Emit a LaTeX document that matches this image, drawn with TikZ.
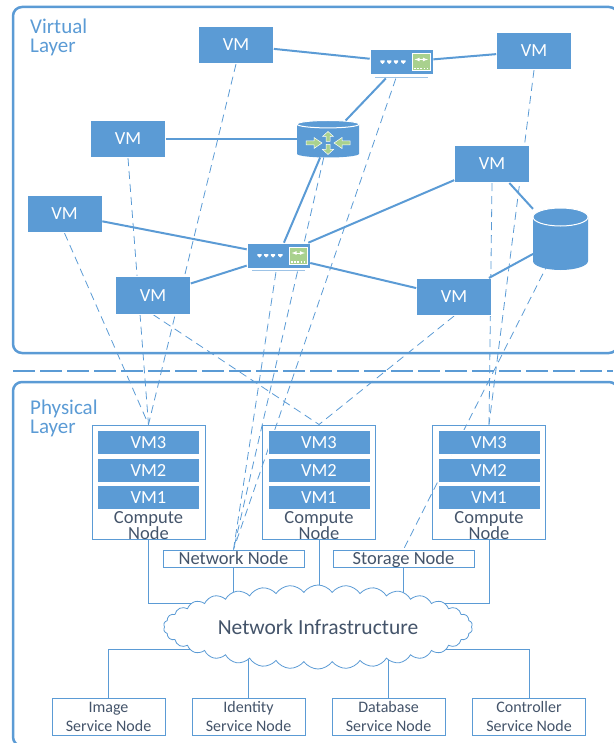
\documentclass[tikz,border=0pt]{standalone}
\usepackage{fontspec}
\setmainfont{Carlito}
\usetikzlibrary{shapes.symbols,backgrounds}

\definecolor{netblue}{HTML}{5B9BD5}
\definecolor{lightblue}{HTML}{9DC3E6}
\definecolor{icongreen}{HTML}{A9D18E}
\definecolor{slatetext}{HTML}{44546A}

\tikzset{
  vmbox/.style={rectangle, fill=netblue, draw=white, line width=0.6pt, inner sep=0pt, minimum width=75pt, minimum height=37.5pt, text=white, font=\fontsize{18.5}{18}\selectfont},
  barbox/.style={rectangle, fill=netblue, draw=white, line width=0.6pt, inner sep=0pt, minimum width=102pt, minimum height=24pt, text=white, font=\fontsize{18.5}{18}\selectfont},
  computebox/.style={rectangle, draw=netblue, line width=1pt, inner sep=0pt, minimum width=113pt, minimum height=114pt},
  hostbox/.style={rectangle, draw=netblue, fill=white, line width=1pt, inner sep=0pt, minimum width=141pt, minimum height=17pt, text height=14pt, text depth=2pt, text=slatetext, font=\fontsize{18.5}{18}\selectfont},
  servicebox/.style={rectangle, draw=netblue, fill=white, line width=1pt, inner sep=0pt, minimum width=113pt, minimum height=37pt, text=slatetext, align=center, font=\fontsize{16}{19}\selectfont},
  switchbox/.style={rectangle, fill=netblue, draw=white, line width=0.6pt, inner sep=0pt, minimum width=63pt, minimum height=25pt},
  drum/.style={rectangle, inner sep=0pt, outer sep=0pt},
  captext/.style={inner sep=0pt, text=slatetext, align=center, font=\fontsize{18.5}{16}\selectfont},
  layertext/.style={inner sep=0pt, anchor=north west, text=netblue, align=left, font=\fontsize{21}{19}\selectfont},
  link/.style={draw=netblue, line width=2pt},
  wire/.style={draw=netblue, line width=1pt},
  vlink/.style={draw=netblue, line width=0.8pt, dash pattern=on 8pt off 5pt},
  panel/.style={draw=netblue, line width=2.5pt, rounded corners=9pt}
}

\newcommand{\switchicon}[1]{
  \begin{scope}[shift={(#1.center)}]
    \foreach \dx in {-19,-12.3,-5.5,1.8}
      \fill[white] (\dx-2.2,-1.5) -- (\dx+2.2,-1.5) -- (\dx+2.2,0) -- (\dx,2) -- (\dx-2.2,0) -- cycle;
    \filldraw[fill=icongreen, draw=white, line width=0.8pt] (11,-8.5) rectangle (28.5,8.5);
    \draw[white, line width=0.8pt, <->, >=latex] (13,-2.5) -- (26.5,-2.5);
    \draw[white, line width=1.5pt, dash pattern=on 1.6pt off 1.6pt] (12.5,6.3) -- (27.5,6.3);
    \draw[lightblue, line width=1.2pt] (-26.5,15.2) -- (26.5,15.2);
  \end{scope}
}

% name, half width, end depth, half height
\newcommand{\drumicon}[4]{
  \begin{scope}[shift={(#1.center)}]
    \fill[netblue] (-#2,-#4+#3) -- (-#2,#4-#3) arc [start angle=180, end angle=0, x radius=#2, y radius=#3] -- (#2,-#4+#3) -- cycle;
    \filldraw[fill=netblue, draw=white, line width=1pt] (0,-#4+#3) ellipse [x radius=#2, y radius=#3];
  \end{scope}
}

\begin{document}
\begin{tikzpicture}[x=1pt,y=-1pt]
\useasboundingbox (0,0) rectangle (613,743);

\node [layertext] (virtualtext) at (30,19) {Virtual\\Layer};
\node [layertext] (physicaltext) at (30,400) {Physical\\Layer};

% virtual layer
\node [vmbox] (vma) at (236,45) {VM};
\node [vmbox] (vmb) at (128,139) {VM};
\node [vmbox] (vmc) at (64.5,214) {VM};
\node [vmbox] (vmd) at (153,295.5) {VM};
\node [vmbox] (vme) at (454,297) {VM};
\node [vmbox] (vmf) at (492,164) {VM};
\node [vmbox] (vmg) at (534,51) {VM};

\node [switchbox] (swa) at (401.5,62) {};
\node [switchbox] (swb) at (278.5,255.5) {};
\switchicon{swa}
\switchicon{swb}

\node [drum, minimum width=62pt, minimum height=37pt] (router) at (328,139) {};
\drumicon{router}{31}{3.7}{18.5}
\begin{scope}[shift={(328,143)}]
  \foreach \turn/\tail/\tip in {90/1.5/11.5,-90/1.5/11.5,0/22/6,180/22/6}
    \filldraw[fill=icongreen, draw=white, line width=0.5pt, rotate=\turn] (\tail,-2) -- ({0.5*\tail+0.5*\tip},-2) -- ({0.5*\tail+0.5*\tip},-5.5) -- (\tip,0) -- ({0.5*\tail+0.5*\tip},5.5) -- ({0.5*\tail+0.5*\tip},2) -- (\tail,2) -- cycle;
\end{scope}

\node [drum, minimum width=55pt, minimum height=62pt] (disk) at (560.5,239) {};
\drumicon{disk}{27.5}{9}{31}

\draw [link] (vma) -- (swa);
\draw [link] (swa) -- (vmg);
\draw [link] (vmb) -- (router);
\draw [link, shorten <=5pt] (swa) -- (router);
\draw [link] (router) -- (swb);
\draw [link] (vmc) -- (swb);
\draw [link] (vmd) -- (swb);
\draw [link] (swb) -- (vmf);
\draw [link] (swb) -- (vme);
\draw [link] (vmf) -- (disk);
\draw [link] (vme) -- (disk);

% physical layer
\node [computebox] (cna) at (148.5,482) {};
\node [computebox] (cnb) at (319,482) {};
\node [computebox] (cnc) at (489,482) {};

\foreach \cn in {cna,cnb,cnc} {
  \node [barbox] (\cn three) at (\cn.center |- 0,442.5) {VM3};
  \node [barbox] (\cn two) at (\cn.center |- 0,470.5) {VM2};
  \node [barbox] (\cn one) at (\cn.center |- 0,497.5) {VM1};
  \node [captext] (\cn text) at (\cn.center |- 0,525.5) {Compute\\Node};
}

\node [hostbox] (netnode) at (233.5,558.5) {Network Node};
\node [hostbox] (stornode) at (403.5,558.5) {Storage Node};

\node [cloud, cloud puffs=34, cloud puff arc=110, aspect=4.4, cloud ignores aspect, draw=netblue, fill=white, line width=0.8pt, inner sep=0pt, minimum width=309pt, minimum height=84pt, text=slatetext, font=\fontsize{21.5}{21}\selectfont] (netcloud) at (318,627) {Network Infrastructure};

\node [servicebox] (svca) at (108.5,716.5) {Image\\Service Node};
\node [servicebox] (svcb) at (248.5,716.5) {Identity\\Service Node};
\node [servicebox] (svcc) at (388.5,716.5) {Database\\Service Node};
\node [servicebox] (svcd) at (529,716.5) {Controller\\Service Node};

\coordinate (jointop) at (318,603);
\coordinate (joinbottom) at (318,649);

\begin{pgfonlayer}{background}
\draw [panel] (13,7) rectangle (618,353);
\draw [panel] (13,382) rectangle (618,746);
\draw [netblue, line width=2.5pt, dash pattern=on 22pt off 5pt] (13,371) -- (613,371);

\draw [vlink] (vma.south) -- (cna.north);
\draw [vlink] (vmb.south) -- (cna.north);
\draw [vlink] (vmc.south) -- (cna.north);
\draw [vlink] (vmd.south) -- (cnb.north);
\draw [vlink] (vme.south) -- (cnb.north);
\draw [vlink] (vmg.south) -- (cnc.north);
\draw [vlink] (vmf.south) -- (cnc.north);
\draw [vlink] (disk.center) -- (stornode.north);
\draw [vlink, shorten <=4pt] (swa) -- (netnode.north);
\draw [vlink] (router) -- (netnode.north);
\draw [vlink, shorten <=4pt] (swb) -- (netnode.north);

\draw [wire] (cna.south) |- (jointop);
\draw [wire] (cnb.south) -- (jointop -| cnb.south);
\draw [wire] (cnc.south) |- (jointop);
\draw [wire] (netnode.south) -- (netcloud.center -| netnode.south);
\draw [wire] (stornode.south) -- (netcloud.center -| stornode.south);
\draw [wire] (svca.north) |- (joinbottom);
\draw [wire] (svcb.north) -- (netcloud.center -| svcb.north);
\draw [wire] (svcc.north) -- (netcloud.center -| svcc.north);
\draw [wire] (svcd.north) |- (joinbottom);
\end{pgfonlayer}
\end{tikzpicture}
\end{document}
